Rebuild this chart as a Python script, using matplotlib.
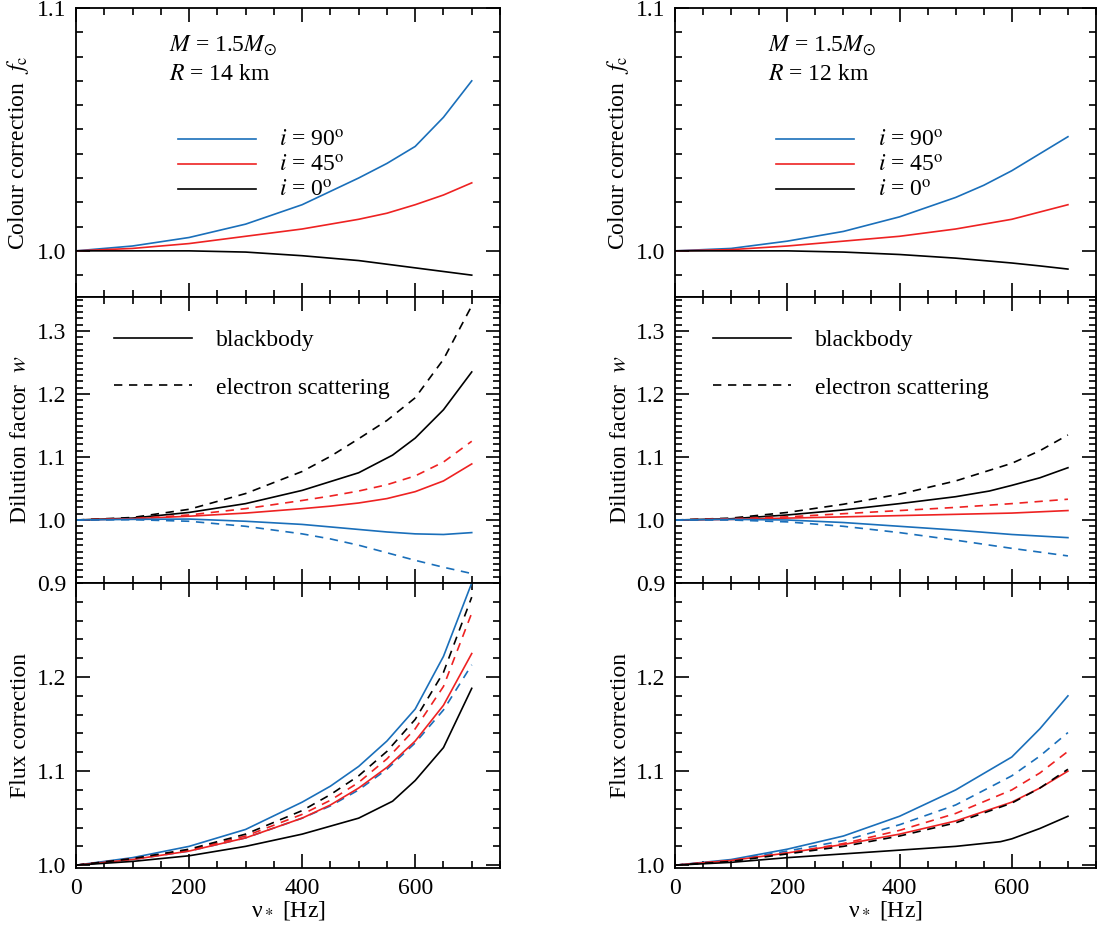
import matplotlib
matplotlib.use("Agg")
import matplotlib.pyplot as plt
from matplotlib.ticker import MultipleLocator
from matplotlib.lines import Line2D

plt.rcParams['font.family'] = ['Liberation Serif', 'DejaVu Serif']
plt.rcParams['mathtext.fontset'] = 'stix'

BLUE = '#1a6fba'
RED = '#ee2222'
BLACK = 'black'

xa = [0, 100, 200, 300, 400, 500, 550, 600, 650, 700]

# Colour correction f_c (left: R=14 km, right: R=12 km)
fc_L = {
    'i90': [1.0, 1.002, 1.0055, 1.011, 1.019, 1.030, 1.036, 1.043, 1.055, 1.070],
    'i45': [1.0, 1.001, 1.003, 1.006, 1.009, 1.013, 1.0155, 1.019, 1.023, 1.028],
    'i0':  [1.0, 1.0, 1.0, 0.9995, 0.998, 0.996, 0.9945, 0.993, 0.9915, 0.990],
}
fc_R = {
    'i90': [1.0, 1.001, 1.004, 1.008, 1.014, 1.022, 1.027, 1.033, 1.040, 1.047],
    'i45': [1.0, 1.0005, 1.002, 1.004, 1.006, 1.009, 1.011, 1.013, 1.016, 1.019],
    'i0':  [1.0, 1.0, 1.0, 0.9995, 0.9985, 0.997, 0.996, 0.995, 0.9938, 0.9925],
}

# Dilution factor w
xk = [0, 100, 200, 300, 400, 500, 560, 600, 650, 700]
x9 = [0, 100, 200, 300, 400, 450, 500, 550, 600, 650, 700]
w_L_bb = {
    'i0':  (xk, [1.0, 1.003, 1.012, 1.026, 1.047, 1.075, 1.103, 1.13, 1.175, 1.235]),
    'i45': (x9, [1.0, 1.002, 1.006, 1.011, 1.018, 1.022, 1.027, 1.034, 1.045, 1.062, 1.089]),
    'i90': (x9, [1.0, 1.001, 1.0015, 0.998, 0.993, 0.989, 0.985, 0.981, 0.978, 0.977, 0.980]),
}
w_L_es = {
    'i0':  (x9, [1.0, 1.004, 1.017, 1.042, 1.077, 1.101, 1.129, 1.158, 1.194, 1.255, 1.34]),
    'i45': (x9, [1.0, 1.002, 1.008, 1.018, 1.031, 1.038, 1.046, 1.056, 1.070, 1.092, 1.125]),
    'i90': (x9, [1.0, 1.0005, 0.998, 0.990, 0.978, 0.970, 0.960, 0.948, 0.936, 0.925, 0.915]),
}
x7 = [0, 100, 200, 300, 400, 500, 600, 650, 700]
w_R_bb = {
    'i0':  (xk, [1.0, 1.002, 1.008, 1.016, 1.026, 1.037, 1.046, 1.055, 1.067, 1.083]),
    'i45': (x7, [1.0, 1.001, 1.003, 1.005, 1.007, 1.009, 1.011, 1.013, 1.015]),
    'i90': (x7, [1.0, 1.001, 1.0, 0.996, 0.990, 0.984, 0.977, 0.9745, 0.972]),
}
w_R_es = {
    'i0':  (x7, [1.0, 1.003, 1.012, 1.025, 1.041, 1.062, 1.090, 1.110, 1.135]),
    'i45': (x7, [1.0, 1.002, 1.005, 1.010, 1.015, 1.020, 1.026, 1.0295, 1.033]),
    'i90': (x7, [1.0, 1.0, 0.997, 0.990, 0.980, 0.968, 0.955, 0.949, 0.943]),
}

# Flux correction
F_L_bb = {
    'i90': (x9, [1.0, 1.008, 1.020, 1.038, 1.067, 1.084, 1.105, 1.132, 1.166, 1.222, 1.30]),
    'i45': (x9, [1.0, 1.006, 1.015, 1.029, 1.050, 1.064, 1.082, 1.104, 1.132, 1.170, 1.225]),
    'i0':  (xk, [1.0, 1.004, 1.010, 1.020, 1.033, 1.050, 1.068, 1.090, 1.125, 1.188]),
}
F_L_es = {
    'i0':  (x9, [1.0, 1.007, 1.017, 1.033, 1.058, 1.075, 1.095, 1.121, 1.155, 1.205, 1.285]),
    'i45': (x9, [1.0, 1.007, 1.016, 1.031, 1.054, 1.069, 1.088, 1.113, 1.145, 1.190, 1.268]),
    'i90': (x9, [1.0, 1.006, 1.015, 1.029, 1.050, 1.063, 1.080, 1.102, 1.130, 1.165, 1.213]),
}
xr = [0, 100, 200, 300, 400, 500, 580, 600, 650, 700]
F_R_bb = {
    'i90': (x7, [1.0, 1.006, 1.017, 1.031, 1.052, 1.080, 1.115, 1.145, 1.180]),
    'i45': (x7, [1.0, 1.005, 1.013, 1.022, 1.033, 1.047, 1.067, 1.082, 1.100]),
    'i0':  (xr, [1.0, 1.003, 1.008, 1.012, 1.016, 1.020, 1.025, 1.028, 1.039, 1.052]),
}
F_R_es = {
    'i90': (x7, [1.0, 1.005, 1.015, 1.026, 1.043, 1.064, 1.095, 1.116, 1.141]),
    'i45': (x7, [1.0, 1.005, 1.013, 1.023, 1.037, 1.055, 1.080, 1.098, 1.121]),
    'i0':  (x7, [1.0, 1.004, 1.012, 1.020, 1.031, 1.045, 1.066, 1.082, 1.102]),
}

colors = {'i90': BLUE, 'i45': RED, 'i0': BLACK}
W, H = 1097, 926
fig = plt.figure(figsize=(W/100, H/100), dpi=100)

def ax_at(l, r, t, b):
    return fig.add_axes([l/W, 1-b/H, (r-l)/W, (b-t)/H])

cols = [(76, 500), (675, 1096)]
rows = [(8, 297), (297, 583), (583, 868)]
FS = 17
LX = -0.105

for c, (l, r) in enumerate(cols):
    fc = [fc_L, fc_R][c]
    wbb = [w_L_bb, w_R_bb][c]
    wes = [w_L_es, w_R_es][c]
    Fbb = [F_L_bb, F_R_bb][c]
    Fes = [F_L_es, F_R_es][c]
    axs = [ax_at(l, r, t, b) for (t, b) in rows]
    for ax in axs:
        ax.set_xlim(0, 750)
        ax.xaxis.set_major_locator(MultipleLocator(200))
        ax.xaxis.set_minor_locator(MultipleLocator(50))
        ax.tick_params(which='both', direction='in', top=True, right=True, labelsize=FS, width=1.2, pad=7)
        ax.tick_params(which='major', length=10)
        ax.tick_params(which='minor', length=5)
        for s in ax.spines.values():
            s.set_linewidth(1.3)
    for ax in axs[:2]:
        ax.tick_params(labelbottom=False)

    a = axs[0]
    for k in ['i90', 'i45', 'i0']:
        a.plot(xa, fc[k], color=colors[k], lw=1.2)
    a.set_ylim(0.981, 1.1)
    a.yaxis.set_major_locator(MultipleLocator(0.1))
    a.yaxis.set_minor_locator(MultipleLocator(0.01))
    a.set_ylabel(r'Colour correction  $f_{\rm c}$', fontsize=FS)
    a.yaxis.set_label_coords(LX, 0.5)
    a.text(0.22, 0.87, r'$M$ = 1.5$M_{\odot}$', transform=a.transAxes, fontsize=FS, va='center')
    a.text(0.22, 0.77, r'$R$ = %d km' % (14 if c == 0 else 12), transform=a.transAxes, fontsize=FS, va='center')
    hs = [Line2D([], [], color=colors[k], lw=1.2) for k in ['i90', 'i45', 'i0']]
    a.legend(hs, [r'$i$ = 90$^{\rm o}$', r'$i$ = 45$^{\rm o}$', r'$i$ = 0$^{\rm o}$'],
             loc='upper left', bbox_to_anchor=(0.19, 0.65), frameon=False, fontsize=FS,
             handlelength=3.3, handletextpad=1.0, labelspacing=0.15)

    a = axs[1]
    for k in ['i0', 'i45', 'i90']:
        xs, ys = wbb[k]
        a.plot(xs, ys, color=colors[k], lw=1.2)
        xs, ys = wes[k]
        a.plot(xs, ys, color=colors[k], lw=1.2, ls=(0, (5, 4)))
    a.set_ylim(0.9, 1.354)
    a.yaxis.set_major_locator(MultipleLocator(0.1))
    a.yaxis.set_minor_locator(MultipleLocator(0.01))
    a.set_ylabel(r'Dilution factor  $w$', fontsize=FS)
    a.yaxis.set_label_coords(LX, 0.5)
    hs = [Line2D([], [], color='k', lw=1.2), Line2D([], [], color='k', lw=1.2, ls=(0, (5, 4)))]
    a.legend(hs, ['blackbody', 'electron scattering'], loc='upper left', bbox_to_anchor=(0.04, 0.96),
             frameon=False, fontsize=FS, handlelength=3.3, handletextpad=1.0, labelspacing=1.1)

    a = axs[2]
    for k in ['i90', 'i45', 'i0']:
        xs, ys = Fbb[k]
        a.plot(xs, ys, color=colors[k], lw=1.2)
        xs, ys = Fes[k]
        a.plot(xs, ys, color=colors[k], lw=1.2, ls=(0, (5, 4)))
    a.set_ylim(0.997, 1.3)
    a.yaxis.set_minor_locator(MultipleLocator(0.02))
    a.set_yticks([1.0, 1.1, 1.2])
    a.set_ylabel('Flux correction', fontsize=FS)
    a.yaxis.set_label_coords(LX, 0.5)
    a.set_xlabel(r'ν$_*$ [Hz]', fontsize=FS, labelpad=0)

fig.savefig('out.png', dpi=100)
